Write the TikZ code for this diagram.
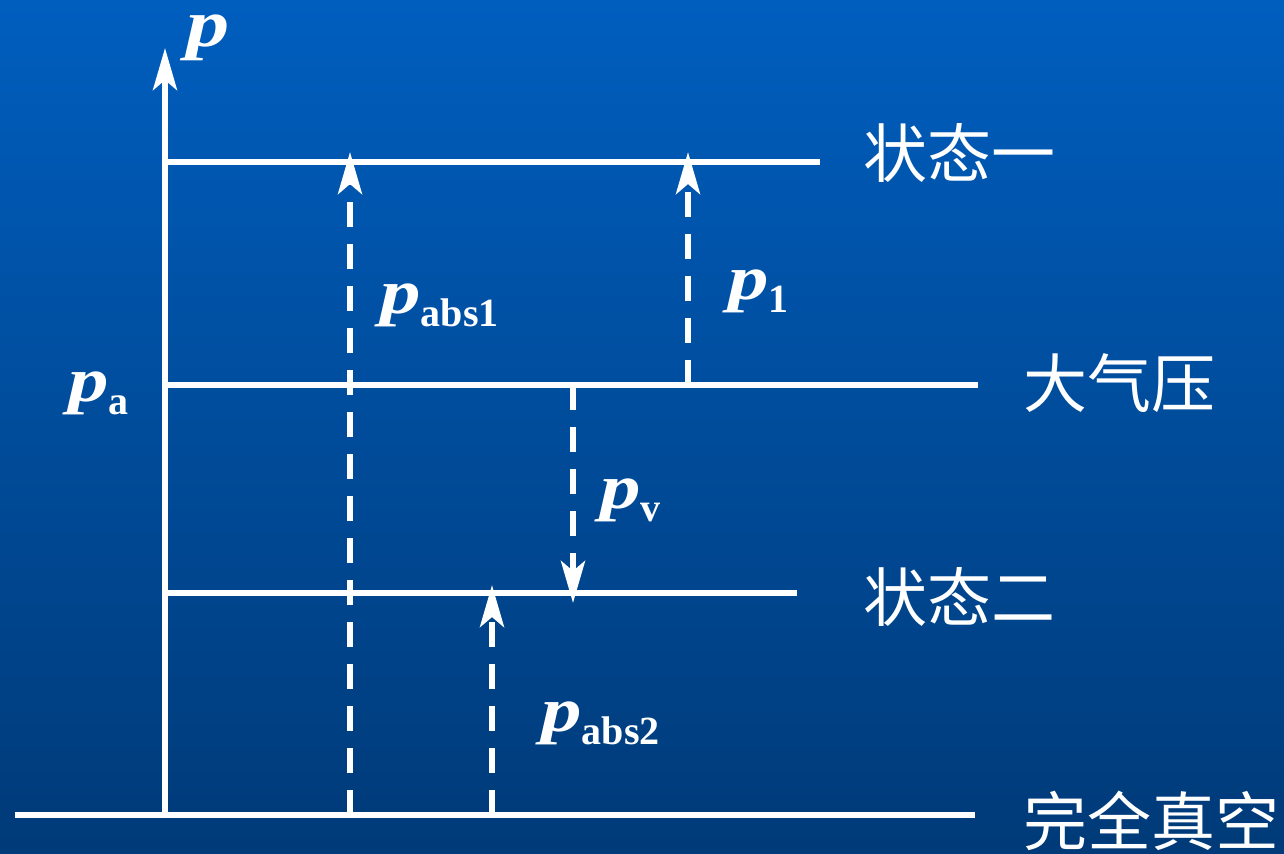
\documentclass[tikz,border=0pt]{standalone}
\usepackage{fontspec}
\setmainfont{Liberation Serif}
\newfontfamily\cjk{Noto Sans CJK SC}
\usetikzlibrary{arrows.meta}
\newcommand\pglyph[1]{\scalebox{1.35}[1.05]{\fontsize{#1}{#1}\selectfont\bfseries\itshape p}}
\newcommand\psym[1]{\pglyph{30}\raisebox{-6.5pt}{\fontsize{20}{20}\selectfont\bfseries #1}}
\begin{document}
\begin{tikzpicture}[x=0.5pt,y=-0.5pt,
  ln/.style={white, line width=3pt},
  dsh/.style={white, line width=3pt, dash pattern=on 12.5pt off 8.5pt},
  arr/.style={-{Stealth[length=21pt,width=12pt,inset=5pt]}},
  sym/.style={text=white, inner sep=0pt, anchor=base west},
  cn/.style={text=white, font=\cjk\fontsize{32}{32}\selectfont, inner sep=0pt, anchor=west}]
\shade[top color={rgb,255:red,0;green,94;blue,190}, bottom color={rgb,255:red,0;green,58;blue,120}] (0,0) rectangle (1284,853);
\useasboundingbox (0,0) rectangle (1284,853);
% coordinates
\coordinate (ax0) at (165,815);
\coordinate (ax1) at (165,48);
\coordinate (s1a) at (165,162);  \coordinate (s1b) at (820,162);
\coordinate (ata) at (165,385);  \coordinate (atb) at (978,385);
\coordinate (s2a) at (165,593);  \coordinate (s2b) at (797,593);
\coordinate (vaa) at (15,815);   \coordinate (vab) at (975,815);
\coordinate (d1a) at (350,815);  \coordinate (d1b) at (350,152);
\coordinate (d2a) at (688,385);  \coordinate (d2b) at (688,152);
\coordinate (d3a) at (573,385);  \coordinate (d3b) at (573,603);
\coordinate (d4a) at (492,815);  \coordinate (d4b) at (492,585);
% level lines
\draw[ln] (s1a) -- (s1b);
\draw[ln] (ata) -- (atb);
\draw[ln] (s2a) -- (s2b);
\draw[ln] (vaa) -- (vab);
% axis
\draw[ln,arr] (ax0) -- (ax1);
% dashed arrows
\draw[dsh,arr] (d1a) -- (d1b);
\draw[dsh,arr] (d2a) -- (d2b);
\draw[dsh,arr] (d3a) -- (d3b);
\draw[dsh,arr] (d4a) -- (d4b);
% labels
\node[sym] (lp) at (186,46) {\pglyph{32}};
\node[sym] (lpabs1) at (380,313) {\psym{abs1}};
\node[sym] (lp1) at (728,299) {\psym{1}};
\node[sym] (lpa) at (68,401) {\psym{a}};
\node[sym] (lpv) at (600,508) {\psym{v}};
\node[sym] (lpabs2) at (541,731) {\psym{abs2}};
\node[cn] (t1) at (863,153) {状态一};
\node[cn] (t2) at (1023,383) {大气压};
\node[cn] (t3) at (863,597) {状态二};
\node[cn] (t4) at (1023,821) {完全真空};
\end{tikzpicture}
\end{document}
